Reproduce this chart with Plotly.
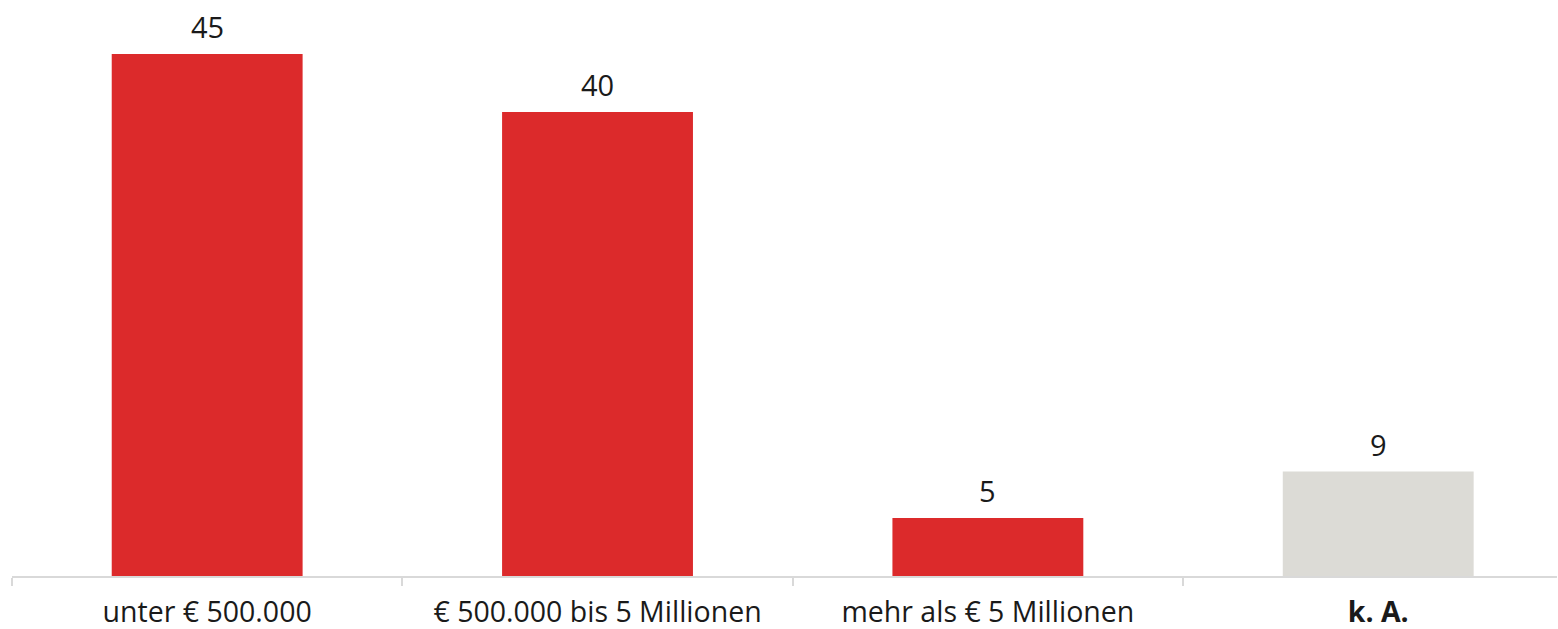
import plotly.graph_objects as go

categories = ["unter € 500.000", "€ 500.000 bis 5 Millionen", "mehr als € 5 Millionen", "k. A."]
tick_labels = ["unter € 500.000", "€ 500.000 bis 5 Millionen", "mehr als € 5 Millionen", "<b>k. A.</b>"]
values = [45, 40, 5, 9]
colors = ["#DC2A2B", "#DC2A2B", "#DC2A2B", "#DCDBD6"]

FONT = "Open Sans, sans-serif"

fig = go.Figure()
fig.add_trace(go.Bar(
    x=categories,
    y=values,
    marker=dict(color=colors, line=dict(width=0)),
    width=0.489,
    hoverinfo="skip",
))

for c, v in zip(categories, values):
    fig.add_annotation(
        x=c, y=v, text=str(v), showarrow=False,
        yanchor="bottom", yshift=6,
        font=dict(family=FONT, size=29, color="#1a1a1a"),
    )

fig.update_layout(
    width=1558, height=629,
    margin=dict(l=12, r=1, t=28, b=53, autoexpand=False),
    plot_bgcolor="white", paper_bgcolor="white",
    showlegend=False,
    font=dict(family=FONT, size=29, color="#1a1a1a"),
    xaxis=dict(
        range=[-0.5, 3.458],
        tickmode="array", tickvals=categories, ticktext=tick_labels,
        tickson="boundaries", ticks="outside", ticklen=8, tickcolor="#d9d9d9", tickwidth=1.5,
        showline=True, linecolor="#d9d9d9", linewidth=1.5,
        showgrid=False, zeroline=False, automargin=False,
        ticklabelstandoff=10,
        tickfont=dict(family=FONT, size=28.5, color="#1a1a1a"),
    ),
    yaxis=dict(
        range=[0, 47.24], visible=False, showgrid=False, zeroline=False, automargin=False,
    ),
)

fig.write_html(
    "out.html",
    config={"displayModeBar": False},
    post_script="document.body.style.margin='0';document.body.style.overflow='hidden';",
)
